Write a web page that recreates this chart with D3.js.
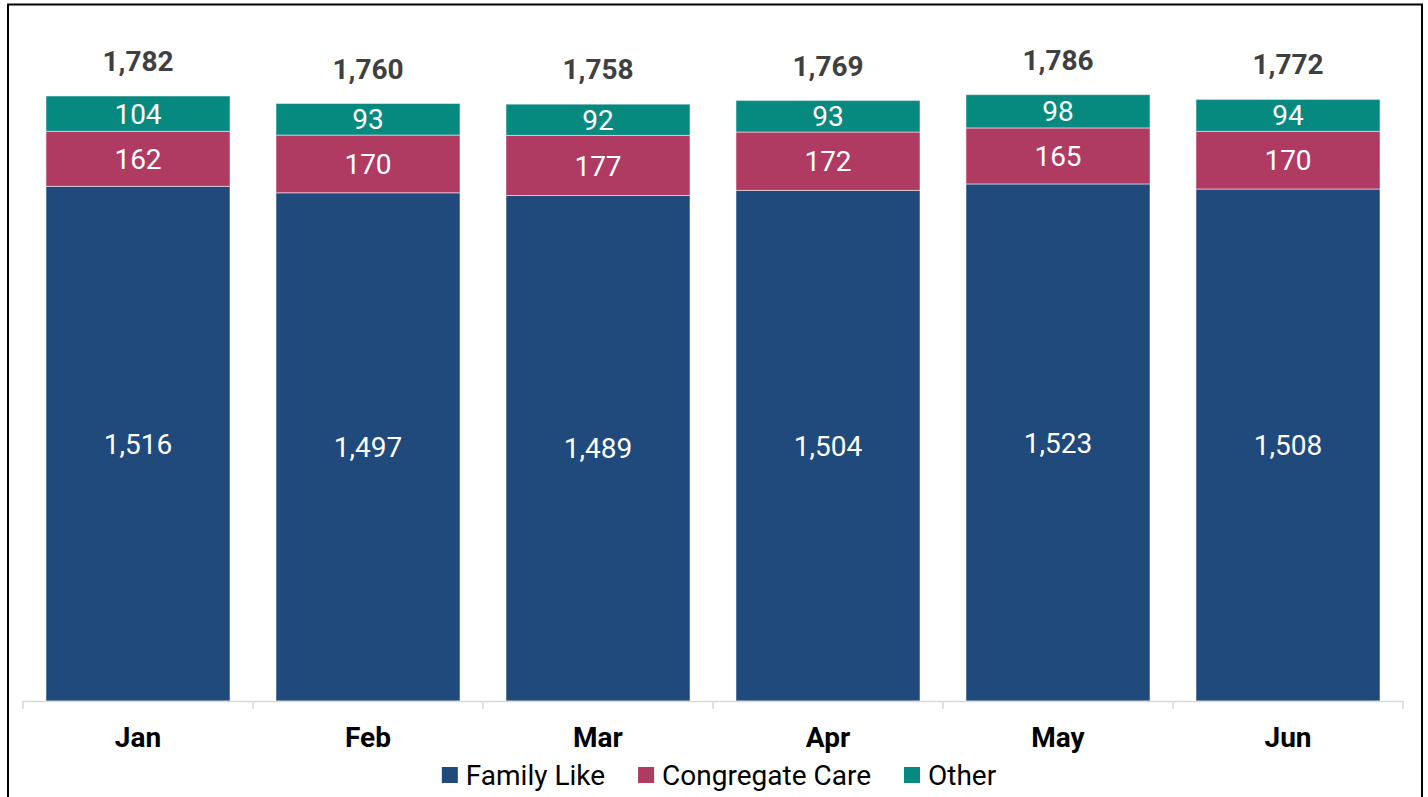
<!DOCTYPE html>
<html><head><meta charset="utf-8">
<script src="https://cdn.jsdelivr.net/npm/d3@7"></script>
<style>
html,body{margin:0;padding:0;background:#fff;}
svg{display:block;font-family:Roboto, "Noto Sans", sans-serif;}
</style></head>
<body>
<svg id="chart" width="1428" height="797"></svg>
<script>
const months = ["Jan","Feb","Mar","Apr","May","Jun"];
const familyLike = [1516,1497,1489,1504,1523,1508];
const congregateCare = [162,170,177,172,165,170];
const other = [104,93,92,93,98,94];
const totals = [1782,1760,1758,1769,1786,1772];
const seriesNames = ["Family Like","Congregate Care","Other"];
const colors = ["#214A7C","#AF3A62","#068A80"];

const svg = d3.select("#chart");
// frame
svg.append("rect").attr("x",8).attr("y",4.5).attr("width",1414).attr("height",800)
  .attr("fill","none").attr("stroke","#000").attr("stroke-width",2);

const x = d3.scaleBand().domain(months).range([23,1403]).paddingInner(0.2).paddingOuter(0.1);
const y = d3.scaleLinear().domain([0,2000]).range([701,22]);

const rows = months.map((m,i)=>({month:m,"Family Like":familyLike[i],"Congregate Care":congregateCare[i],"Other":other[i],total:totals[i]}));
const stack = d3.stack().keys(seriesNames)(rows);

const g = svg.append("g");
stack.forEach((layer,li)=>{
  const lg = g.append("g");
  lg.selectAll("rect").data(layer).join("rect")
    .attr("x",d=>x(d.data.month))
    .attr("width",x.bandwidth())
    .attr("y",d=>y(d[1]))
    .attr("height",d=>y(d[0])-y(d[1]))
    .attr("fill",colors[li])
    .attr("stroke","#fff").attr("stroke-opacity",0.5).attr("stroke-width",1);
  lg.selectAll("text").data(layer).join("text")
    .attr("x",d=>x(d.data.month)+x.bandwidth()/2)
    .attr("y",d=>(y(d[0])+y(d[1]))/2)
    .attr("dy","0.36em")
    .attr("text-anchor","middle")
    .attr("fill","#fff")
    .attr("font-size",28)
    .text(d=>d3.format(",")(d[1]-d[0]));
});

// totals
g.selectAll("text.total").data(rows).join("text").attr("class","total")
  .attr("x",d=>x(d.month)+x.bandwidth()/2)
  .attr("y",d=>y(d.total)-35)
  .attr("dy","0.36em")
  .attr("text-anchor","middle")
  .attr("font-weight","bold")
  .attr("font-size",28)
  .attr("fill","#404040")
  .text(d=>d3.format(",")(d.total));

// x axis
const axisG = svg.append("g");
axisG.append("line").attr("x1",23).attr("x2",1403).attr("y1",701.5).attr("y2",701.5)
  .attr("stroke","#D9D9D9").attr("stroke-width",1.5);
const tickPos = months.map(m=>x(m)-x.bandwidth()*0.125).concat([x(months[months.length-1])+x.bandwidth()*1.125]);
axisG.selectAll("line.tick").data(tickPos).join("line").attr("class","tick")
  .attr("x1",d=>d).attr("x2",d=>d).attr("y1",701).attr("y2",709)
  .attr("stroke","#D9D9D9").attr("stroke-width",1.5);
axisG.selectAll("text").data(months).join("text")
  .attr("x",d=>x(d)+x.bandwidth()/2)
  .attr("y",737).attr("dy","0.36em")
  .attr("text-anchor","middle")
  .attr("font-weight","bold").attr("font-size",28).attr("fill","#000")
  .text(d=>d);

// legend
const leg = svg.append("g");
const items = seriesNames.map((n,i)=>{
  const it = leg.append("g");
  it.append("rect").attr("width",16).attr("height",16).attr("y",-8).attr("fill",colors[i]);
  const t = it.append("text").attr("x",24).attr("dy","0.36em").attr("font-size",28).attr("fill","#000").text(n);
  return {g:it,w:24+t.node().getComputedTextLength()};
});
const gap = 33;
const totalW = d3.sum(items,d=>d.w)+gap*(items.length-1);
let cx = 719 - totalW/2;
items.forEach(it=>{ it.g.attr("transform",`translate(${cx},775)`); cx += it.w+gap; });
</script>
</body></html>
